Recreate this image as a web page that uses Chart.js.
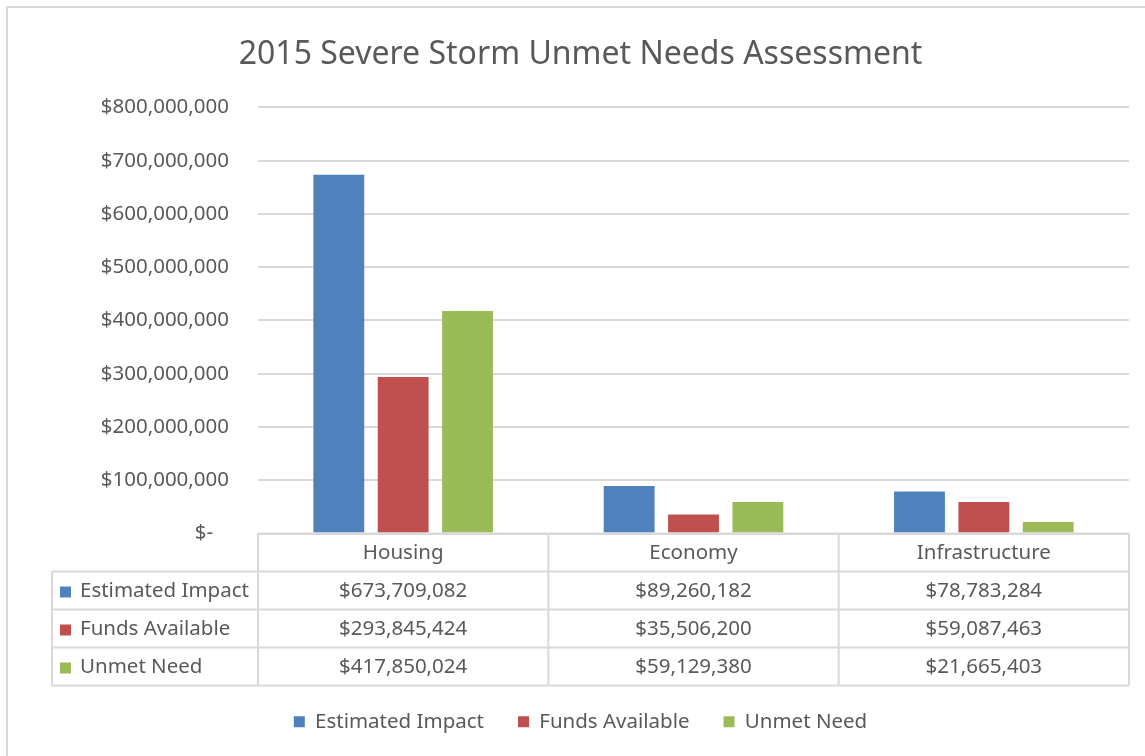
<!DOCTYPE html>
<html>
<head>
<meta charset="utf-8">
<script src="https://cdn.jsdelivr.net/npm/chart.js@4.4.0/dist/chart.umd.min.js"></script>
<style>
  html, body { margin: 0; padding: 0; background: #fff; }
  #wrap { width: 1145px; height: 756px; }
</style>
</head>
<body>
<div id="wrap"><canvas id="chart" width="1145" height="756"></canvas></div>
<script>
// DATA
const categories = ['Housing', 'Economy', 'Infrastructure'];
const seriesNames = ['Estimated Impact', 'Funds Available', 'Unmet Need'];
const estimatedImpact = [673709082, 89260182, 78783284];
const fundsAvailable = [293845424, 35506200, 59087463];
const unmetNeed = [417850024, 59129380, 21665403];
const yMax = 800000000;
const yStep = 100000000;

const colors = ['#4f81bd', '#c0504d', '#9bbb59'];
const textColor = '#595959';
const lineColor = '#d9d9d9';
const fontFamily = "'Noto Sans', 'Open Sans', sans-serif";
const fontSize = 20.5;

const money = v => '$' + v.toLocaleString('en-US');

// Outer frame of the chart
const framePlugin = {
    id: 'frame',
    beforeDraw(chart) {
        const ctx = chart.ctx;
        ctx.save();
        ctx.strokeStyle = lineColor;
        ctx.lineWidth = 2;
        ctx.strokeRect(7, 7, chart.width + 10, chart.height + 10);
        ctx.restore();
    }
};

// Data table under the plot (Excel style)
const tablePlugin = {
    id: 'dataTable',
    afterDraw(chart) {
        const ctx = chart.ctx;
        const area = chart.chartArea;
        const xs = chart.scales.x;
        const top = area.bottom;
        const rowH = 38;
        const tableLeft = 52;
        const colW = area.width / categories.length;
        const rows = [estimatedImpact, fundsAvailable, unmetNeed];

        ctx.save();
        ctx.strokeStyle = lineColor;
        ctx.lineWidth = 2;
        ctx.beginPath();
        // header top
        ctx.moveTo(area.left, top); ctx.lineTo(area.right, top);
        // row lines
        for (let r = 1; r <= 4; r++) {
            ctx.moveTo(tableLeft, top + r * rowH); ctx.lineTo(area.right, top + r * rowH);
        }
        // column lines
        for (let c = 0; c <= categories.length; c++) {
            const x = area.left + c * colW;
            ctx.moveTo(x, top); ctx.lineTo(x, top + 4 * rowH);
        }
        ctx.moveTo(tableLeft, top + rowH); ctx.lineTo(tableLeft, top + 4 * rowH);
        ctx.stroke();

        ctx.font = fontSize + 'px ' + fontFamily;
        ctx.fillStyle = textColor;
        ctx.textBaseline = 'middle';
        ctx.textAlign = 'center';
        categories.forEach((c, i) => {
            ctx.fillText(c, xs.getPixelForValue(i), top + rowH / 2 + 1);
        });
        rows.forEach((vals, r) => {
            const y = top + (r + 1) * rowH + rowH / 2 + 1;
            ctx.fillStyle = colors[r];
            ctx.fillRect(tableLeft + 8, y - 5, 11, 11);
            ctx.fillStyle = textColor;
            ctx.textAlign = 'left';
            ctx.fillText(seriesNames[r], tableLeft + 28, y);
            ctx.textAlign = 'center';
            vals.forEach((v, i) => ctx.fillText(money(v), xs.getPixelForValue(i), y));
        });
        ctx.restore();
    }
};

const ctx = document.getElementById('chart').getContext('2d');
new Chart(ctx, {
    type: 'bar',
    data: {
        labels: categories,
        datasets: [
            { label: seriesNames[0], data: estimatedImpact, backgroundColor: colors[0] },
            { label: seriesNames[1], data: fundsAvailable, backgroundColor: colors[1] },
            { label: seriesNames[2], data: unmetNeed, backgroundColor: colors[2] }
        ]
    },
    options: {
        responsive: false,
        animation: false,
        categoryPercentage: 0.665,
        barPercentage: 0.79,
        layout: { padding: { left: 32, right: 16, top: 0, bottom: 14 } },
        plugins: {
            title: {
                display: true,
                text: '2015 Severe Storm Unmet Needs Assessment',
                color: textColor,
                font: { family: fontFamily, size: 32, weight: 'normal' },
                padding: { top: 36, bottom: 33 }
            },
            legend: {
                position: 'bottom',
                labels: {
                    color: textColor,
                    font: { family: fontFamily, size: fontSize },
                    boxWidth: 11,
                    boxHeight: 11,
                    padding: 34
                }
            },
            tooltip: { enabled: false }
        },
        scales: {
            x: {
                grid: { display: false },
                border: { display: false },
                ticks: { display: false },
                afterFit: scale => { scale.height = 144; }
            },
            y: {
                min: 0,
                max: yMax,
                border: { display: false },
                grid: { color: lineColor, lineWidth: 2, drawTicks: false },
                ticks: {
                    stepSize: yStep,
                    padding: 29,
                    color: textColor,
                    font: { family: fontFamily, size: fontSize },
                    callback: v => v === 0 ? '$-   ' : money(v)
                },
                afterFit: scale => { scale.width = 226; }
            }
        }
    },
    plugins: [framePlugin, tablePlugin]
});
</script>
</body>
</html>
